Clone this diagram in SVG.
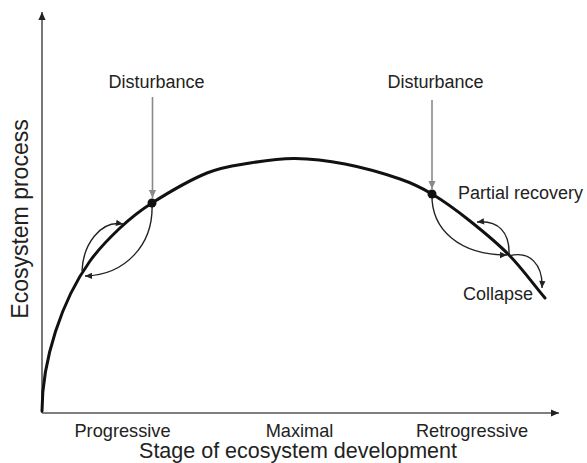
<svg xmlns="http://www.w3.org/2000/svg" width="587" height="463" viewBox="0 0 587 463">
<style>
text{font-family:"Liberation Sans",Arial,Helvetica,sans-serif;fill:#222}
.tick{font-size:18.2px;text-anchor:middle}
.title{font-size:21.5px;text-anchor:middle}
.ann{font-size:18px}
.axis{stroke:#555;stroke-width:1.6;fill:none}
.main{stroke:#111;stroke-width:3;fill:none;stroke-linecap:round}
.arc{stroke:#222;stroke-width:1.4;fill:none}
.dist{stroke:#8a8a8a;stroke-width:1.6;fill:none}
</style>
<defs>
<marker id="axh" viewBox="0 0 10 10" refX="10" refY="5" markerWidth="11" markerHeight="8" markerUnits="userSpaceOnUse" orient="auto"><path d="M0,0.5 L10,5 L0,9.5 z" fill="#222"/></marker>
<marker id="ah" viewBox="0 0 10 10" refX="10" refY="5" markerWidth="8" markerHeight="7" markerUnits="userSpaceOnUse" orient="auto"><path d="M0,0.5 L10,5 L0,9.5 z" fill="#222"/></marker>
<marker id="gh" viewBox="0 0 10 10" refX="10" refY="5" markerWidth="10" markerHeight="8" markerUnits="userSpaceOnUse" orient="auto"><path d="M0,0.5 L10,5 L0,9.5 z" fill="#8a8a8a"/></marker>
</defs>
<g id="axes">
<line class="axis" x1="42" y1="413" x2="42" y2="12" marker-end="url(#axh)"/>
<line class="axis" x1="42" y1="413" x2="559" y2="413" marker-end="url(#axh)"/>
</g>
<g id="curve">
<path class="main" d="M42,411 C42,360 62,300 90,261 C98,249.9 109.7,237.7 120,228 C130.3,218.3 137.5,212.2 152,203 C166.5,193.8 190.7,179.7 207,173 C223.3,166.3 235.3,165.4 250,163 C264.7,160.6 279.2,158.3 295,158.5 C310.8,158.7 327.5,160.6 345,164 C362.5,167.4 385.5,174 400,179 C414.5,184 420.3,187 432,194 C443.7,201 457.2,210.8 470,221 C482.8,231.2 496.5,242.2 509,255 C521.5,267.8 533,283.7 545,298"/>
</g>
<g id="connectors">
<path class="arc" d="M82,271 C83,245 100,220 123,224" marker-end="url(#ah)"/>
<path class="arc" d="M152,203 C154,245 125,275 85,276" marker-end="url(#ah)"/>
<path class="arc" d="M432,194 C431,230 460,255 507,255" marker-end="url(#ah)"/>
<path class="arc" d="M509,255 C510,232 498,220 477,222" marker-end="url(#ah)"/>
<path class="arc" d="M509,256 C530,250 543,265 542,288" marker-end="url(#ah)"/>
<line class="dist" x1="152.5" y1="97" x2="152.5" y2="198" marker-end="url(#gh)"/>
<line class="dist" x1="432" y1="100" x2="432" y2="189" marker-end="url(#gh)"/>
</g>
<g id="dot-left"><circle cx="152" cy="203" r="4.5" fill="#111"/></g>
<g id="dot-right"><circle cx="432" cy="194" r="4.5" fill="#111"/></g>
<g id="disturbance-left"><text class="ann" x="156.5" y="88" text-anchor="middle">Disturbance</text></g>
<g id="disturbance-right"><text class="ann" x="435.5" y="88" text-anchor="middle">Disturbance</text></g>
<g id="partial-recovery"><text class="ann" x="458" y="199">Partial recovery</text></g>
<g id="collapse"><text class="ann" x="463" y="300">Collapse</text></g>
<g id="x-labels">
<text class="tick" x="122.5" y="436.5">Progressive</text>
<text class="tick" x="299.5" y="436.5">Maximal</text>
<text class="tick" x="472" y="436.5">Retrogressive</text>
<text class="title" x="298" y="458">Stage of ecosystem development</text>
</g>
<g id="y-label"><text class="title" transform="translate(28,219) rotate(-90)" style="font-size:23px">Ecosystem process</text></g>
</svg>
